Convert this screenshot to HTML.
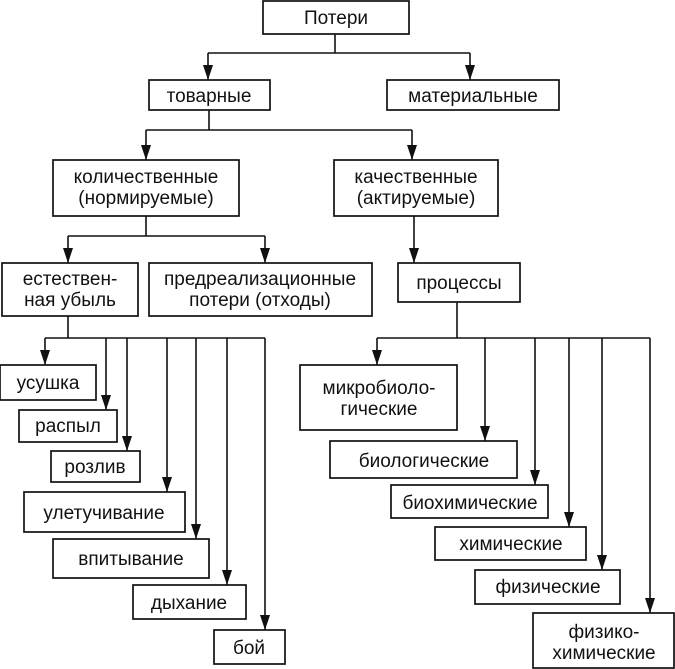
<!DOCTYPE html>
<html><head><meta charset="utf-8"><style>
html,body{margin:0;padding:0;background:#fff}
svg{display:block}
text{font-family:"Liberation Sans",sans-serif;font-size:19px;fill:#111;text-anchor:middle}
rect{fill:#fff;stroke:#111;stroke-width:1.7}
line{stroke:#111;stroke-width:1.6}
</style></head><body>
<svg width="675" height="669" viewBox="0 0 675 669">
<defs><marker id="a" markerWidth="16" markerHeight="10" refX="15" refY="5" orient="auto" markerUnits="userSpaceOnUse"><path d="M0,0 L15,5 L0,10 z" fill="#111"/></marker></defs>
<g>
<line x1="335" y1="34" x2="335" y2="53"/><line x1="208" y1="53" x2="470" y2="53"/>
<line x1="208" y1="53" x2="208" y2="80" marker-end="url(#a)"/><line x1="470" y1="53" x2="470" y2="80" marker-end="url(#a)"/>
<line x1="209" y1="110" x2="209" y2="130"/><line x1="146" y1="130" x2="412" y2="130"/>
<line x1="146" y1="130" x2="146" y2="160" marker-end="url(#a)"/><line x1="412" y1="130" x2="412" y2="160" marker-end="url(#a)"/>
<line x1="146" y1="216" x2="146" y2="236"/><line x1="68" y1="236" x2="265" y2="236"/>
<line x1="68" y1="236" x2="68" y2="263" marker-end="url(#a)"/><line x1="265" y1="236" x2="265" y2="263" marker-end="url(#a)"/>
<line x1="414" y1="216" x2="414" y2="263" marker-end="url(#a)"/>
<line x1="68" y1="316" x2="68" y2="338"/><line x1="45" y1="338" x2="265" y2="338"/>
<line x1="45" y1="338" x2="45" y2="365" marker-end="url(#a)"/>
<line x1="106" y1="338" x2="106" y2="410" marker-end="url(#a)"/>
<line x1="127" y1="338" x2="127" y2="451" marker-end="url(#a)"/>
<line x1="167" y1="338" x2="167" y2="492" marker-end="url(#a)"/>
<line x1="196" y1="338" x2="196" y2="539" marker-end="url(#a)"/>
<line x1="227" y1="338" x2="227" y2="585" marker-end="url(#a)"/>
<line x1="265" y1="338" x2="265" y2="630" marker-end="url(#a)"/>
<line x1="457" y1="302" x2="457" y2="338"/><line x1="377" y1="338" x2="650" y2="338"/>
<line x1="377" y1="338" x2="377" y2="365" marker-end="url(#a)"/>
<line x1="485" y1="338" x2="485" y2="441" marker-end="url(#a)"/>
<line x1="535" y1="338" x2="535" y2="485" marker-end="url(#a)"/>
<line x1="569" y1="338" x2="569" y2="527" marker-end="url(#a)"/>
<line x1="602" y1="338" x2="602" y2="570" marker-end="url(#a)"/>
<line x1="650" y1="338" x2="650" y2="613" marker-end="url(#a)"/>
</g>
<rect x="263" y="1" width="146" height="33"/><text x="336" y="24">Потери</text>
<rect x="149" y="80" width="121" height="30"/><text x="209" y="102">товарные</text>
<rect x="387" y="80" width="172" height="30"/><text x="473" y="102">материальные</text>
<rect x="53" y="160" width="186" height="56"/><text x="146" y="183">количественные</text><text x="146" y="204">(нормируемые)</text>
<rect x="334" y="160" width="164" height="56"/><text x="416" y="183">качественные</text><text x="416" y="204">(актируемые)</text>
<rect x="2" y="263" width="136" height="53"/><text x="70" y="285">естествен-</text><text x="70" y="306">ная убыль</text>
<rect x="149" y="263" width="223" height="53"/><text x="260" y="285">предреализационные</text><text x="260" y="306">потери (отходы)</text>
<rect x="398" y="263" width="122" height="39"/><text x="459" y="289">процессы</text>
<rect x="0" y="365" width="96" height="35"/><text x="48" y="389">усушка</text>
<rect x="19" y="410" width="98" height="32"/><text x="68" y="432">распыл</text>
<rect x="51" y="451" width="89" height="31"/><text x="95" y="473">розлив</text>
<rect x="24" y="492" width="161" height="40"/><text x="104" y="519">улетучивание</text>
<rect x="53" y="539" width="156" height="39"/><text x="131" y="565">впитывание</text>
<rect x="133" y="585" width="113" height="34"/><text x="189" y="609">дыхание</text>
<rect x="214" y="630" width="71" height="34"/><text x="249" y="654">бой</text>
<rect x="300" y="365" width="157" height="65"/><text x="379" y="394">микробиоло-</text><text x="379" y="415">гические</text>
<rect x="330" y="441" width="187" height="37"/><text x="424" y="467">биологические</text>
<rect x="391" y="485" width="157" height="33"/><text x="470" y="509">биохимические</text>
<rect x="435" y="527" width="151" height="33"/><text x="511" y="550">химические</text>
<rect x="475" y="570" width="145" height="34"/><text x="548" y="593">физические</text>
<rect x="533" y="613" width="141" height="55"/><text x="604" y="638">физико-</text><text x="604" y="659">химические</text>
</svg>
</body></html>
